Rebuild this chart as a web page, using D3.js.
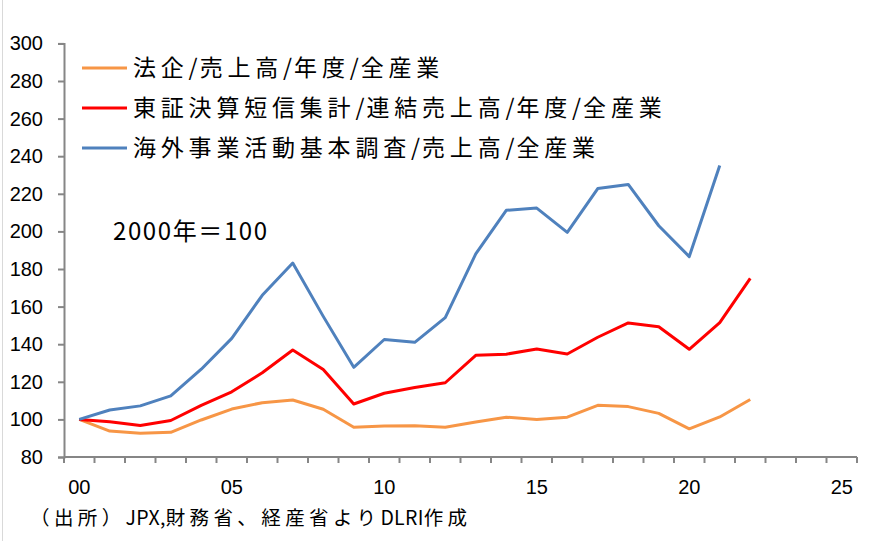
<!DOCTYPE html>
<html><head><meta charset="utf-8">
<script src="https://cdn.jsdelivr.net/npm/d3@7"></script>
<style>
body{margin:0;background:#fff;}
svg{display:block;}
text{fill:#000;}
</style></head>
<body>
<svg id="chart" width="870" height="541"></svg>
<script>
const years = d3.range(0, 26); // categories 00..25
const yearLabels = ["00","05","10","15","20","25"];
const yTicks = [80,100,120,140,160,180,200,220,240,260,280,300];

const seriesNames = [
  "法企/売上高/年度/全産業",
  "東証決算短信集計/連結売上高/年度/全産業",
  "海外事業活動基本調査/売上高/全産業"
];
const seriesColors = ["#F79646","#FF0000","#4F81BD"];

const hojin = [100,93.8,92.6,93.1,99.7,105.5,108.9,110.3,105.4,95.8,96.5,96.6,95.8,98.6,101.2,100.0,101.2,107.5,106.8,103.2,95.0,101.3,110.6];
const tosho = [100,98.8,96.7,99.4,107.5,114.7,124.8,136.9,126.6,108.2,113.9,117.0,119.5,134.1,134.7,137.4,134.8,143.7,151.3,149.3,137.3,151.5,175.0];
const kaigai = [100,105.0,107.2,112.5,126.7,143.1,166.0,183.2,154.8,127.7,142.5,141.0,154.1,188.0,211.2,212.4,199.5,222.8,225.0,203.0,186.6,235.0];
const seriesData = [hojin, tosho, kaigai];

const svg = d3.select("#chart");
const pLeft = 64, pRight = 857, pTop = 43.4, pBottom = 457;

const x = d3.scaleBand().domain(years).range([pLeft, pRight]);
const y = d3.scaleLinear().domain([80, 300]).range([pBottom, pTop]);
const axisColor = "#868686";
const cjk = "Noto Sans CJK JP, sans-serif";
const latin = "Liberation Sans, Arial, sans-serif";

// helper: text with wider spacing on CJK runs, tighter on ASCII runs
function spacedText(sel, str, lsCjk, lsAscii){
  const runs = str.match(/[\x00-\x7F]+|[^\x00-\x7F]+/g);
  runs.forEach(r=>{
    sel.append("tspan").attr("letter-spacing", /^[\x00-\x7F]+$/.test(r) ? lsAscii : lsCjk).text(r);
  });
}

// outer frame line
svg.append("line").attr("x1",2.5).attr("x2",2.5).attr("y1",0).attr("y2",541)
  .attr("stroke","#d9d9d9").attr("stroke-width",1);

// Y axis
const yAxis = d3.axisLeft(y).tickValues(yTicks).tickSize(6).tickPadding(15).tickFormat(d3.format("d"));
const gy = svg.append("g").attr("transform",`translate(${pLeft},0)`).call(yAxis);
gy.select(".domain").attr("stroke",axisColor).attr("stroke-width",2);
gy.selectAll(".tick line").attr("stroke",axisColor).attr("stroke-width",2);
gy.selectAll(".tick text").attr("font-family",latin)
  .attr("font-size",20).attr("fill","#000");

// X axis: ticks at category boundaries
const gx = svg.append("g");
gx.append("line").attr("x1",pLeft).attr("x2",pRight).attr("y1",pBottom).attr("y2",pBottom)
  .attr("stroke",axisColor).attr("stroke-width",2);
const boundaries = years.map(d => x(d)).concat([x(years[years.length-1]) + x.bandwidth()]);
gx.selectAll("line.tk").data(boundaries).enter().append("line").attr("class","tk")
  .attr("x1",d=>d).attr("x2",d=>d).attr("y1",pBottom).attr("y2",pBottom+6)
  .attr("stroke",axisColor).attr("stroke-width",2);
gx.selectAll("text").data(yearLabels).enter().append("text")
  .attr("x",d=>x(+d)+x.bandwidth()/2).attr("y",pBottom+37)
  .attr("text-anchor","middle").attr("font-family",latin)
  .attr("font-size",20).text(d=>d);

// Lines
const line = d3.line().x((d,i)=>x(i)+x.bandwidth()/2).y(d=>y(d));
seriesData.forEach((s,k)=>{
  svg.append("path").datum(s).attr("d",line).attr("fill","none")
    .attr("stroke",seriesColors[k]).attr("stroke-width",3).attr("stroke-linejoin","round");
});

// Legend
const legY = [68,108,148];
seriesNames.forEach((n,k)=>{
  svg.append("line").attr("x1",82).attr("x2",127).attr("y1",legY[k]).attr("y2",legY[k])
    .attr("stroke",seriesColors[k]).attr("stroke-width",3);
  const t = svg.append("text").attr("x",133).attr("y",legY[k]+8)
    .attr("font-family",cjk).attr("font-size",23);
  spacedText(t, n, 4.8, 2);
});

// annotation
svg.append("text").attr("x",113).attr("y",240)
  .attr("font-family",cjk).attr("font-size",24)
  .attr("letter-spacing",1.6).text("2000年＝100");

// source
const src = svg.append("text").attr("x",30).attr("y",525)
  .attr("font-family",cjk).attr("font-size",19.5);
spacedText(src, "（出所）JPX,財務省、経産省よりDLRI作成", 4.4, 0.3);
</script>
</body></html>
